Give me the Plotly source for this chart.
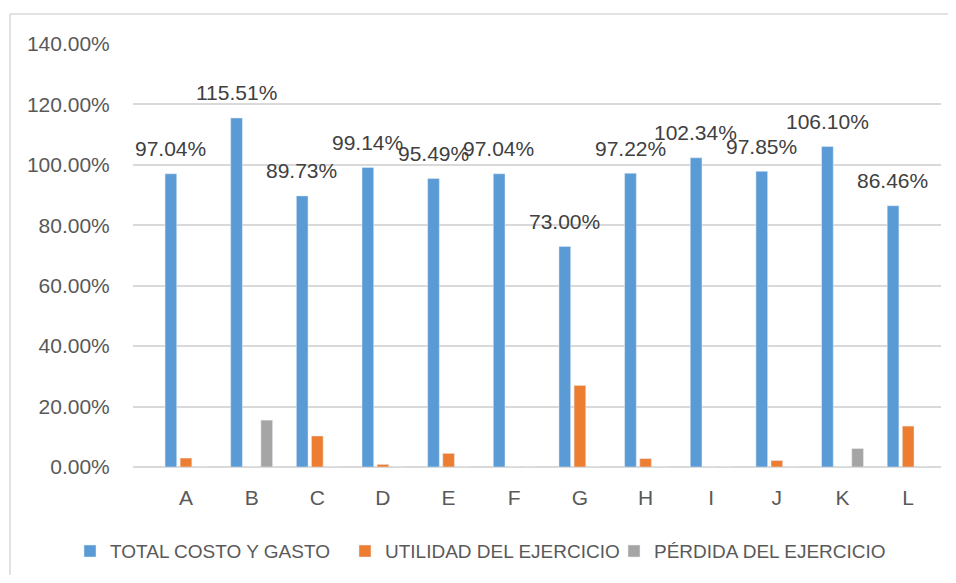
import plotly.graph_objects as go

categories = ["A", "B", "C", "D", "E", "F", "G", "H", "I", "J", "K", "L"]
total_costo = [97.04, 115.51, 89.73, 99.14, 95.49, 97.04, 73.00, 97.22, 102.34, 97.85, 106.10, 86.46]
utilidad = [2.96, 0, 10.27, 0.86, 4.51, 0, 27.00, 2.78, 0, 2.15, 0, 13.54]
perdida = [0, 15.51, 0, 0, 0, 0, 0, 0, 0, 0, 6.10, 0]
series_names = ["TOTAL COSTO Y GASTO", "UTILIDAD DEL EJERCICIO", "PÉRDIDA DEL EJERCICIO"]
colors = ["#5B9BD5", "#ED7D31", "#A5A5A5"]
y_ticks = [0, 20, 40, 60, 80, 100, 120, 140]

FONT = "Liberation Sans"
OFF = 8  # page body margin
W, H = 956 - 2 * OFF, 583 - 2 * OFF
ML, MT = 133 - OFF, 44 - OFF
plot_w, plot_h = 808, 423
MR = W - ML - plot_w
MB = H - MT - plot_h

fig = go.Figure()
for i, (name, vals) in enumerate(zip(series_names, [total_costo, utilidad, perdida])):
    fig.add_trace(go.Bar(
        x=categories, y=vals, name=name, marker_color=colors[i],
        legend="legend" if i == 0 else f"legend{i+1}",
        hoverinfo="skip",
    ))

bargap = 0.31
cat_w = plot_w / len(categories)
slot = cat_w * (1 - bargap) / 3

for c, v in zip(categories, total_costo):
    fig.add_annotation(x=c, y=v, text=f"{v:.2f}%", showarrow=False,
                       xshift=-slot, yshift=25,
                       font=dict(family=FONT, size=21, color="#404040"))

leg_font = dict(family=FONT, size=19, color="#595959")
leg_common = dict(orientation="h", yanchor="middle", y=-0.199, xanchor="left",
                  font=leg_font, bgcolor="rgba(0,0,0,0)", borderwidth=0)

def px_x(px):
    return (px - OFF - ML) / plot_w

fig.update_layout(
    width=W, height=H,
    margin=dict(l=ML, r=MR, t=MT, b=MB, autoexpand=False),
    paper_bgcolor="white", plot_bgcolor="white",
    barmode="group", bargap=bargap, bargroupgap=0.226,
    legend=dict(x=px_x(70), **leg_common),
    legend2=dict(x=px_x(345), **leg_common),
    legend3=dict(x=px_x(614), **leg_common),
    xaxis=dict(showgrid=False, showline=False, ticks="outside", ticklen=12,
               tickcolor="rgba(0,0,0,0)",
               tickfont=dict(family=FONT, size=21, color="#595959")),
    yaxis=dict(range=[0, 140], tickvals=y_ticks,
               ticktext=[f"{t:.2f}%" for t in y_ticks],
               showgrid=True, gridcolor="#D9D9D9", gridwidth=1.5,
               zeroline=True, zerolinecolor="#D9D9D9", zerolinewidth=2,
               ticks="outside", ticklen=18, tickcolor="rgba(0,0,0,0)",
               tickfont=dict(family=FONT, size=21, color="#595959")),
    showlegend=True,
)

border_top = 1 + (44 - 14) / plot_h
fig.add_shape(type="line", xref="paper", yref="paper",
              x0=px_x(10), x1=1.2, y0=border_top, y1=border_top,
              line=dict(color="#D9D9D9", width=1.5), layer="below")
fig.add_shape(type="line", xref="paper", yref="paper",
              x0=px_x(10), x1=px_x(10), y0=-0.5, y1=border_top,
              line=dict(color="#D9D9D9", width=1.5), layer="below")

fig.write_html("out.html")
